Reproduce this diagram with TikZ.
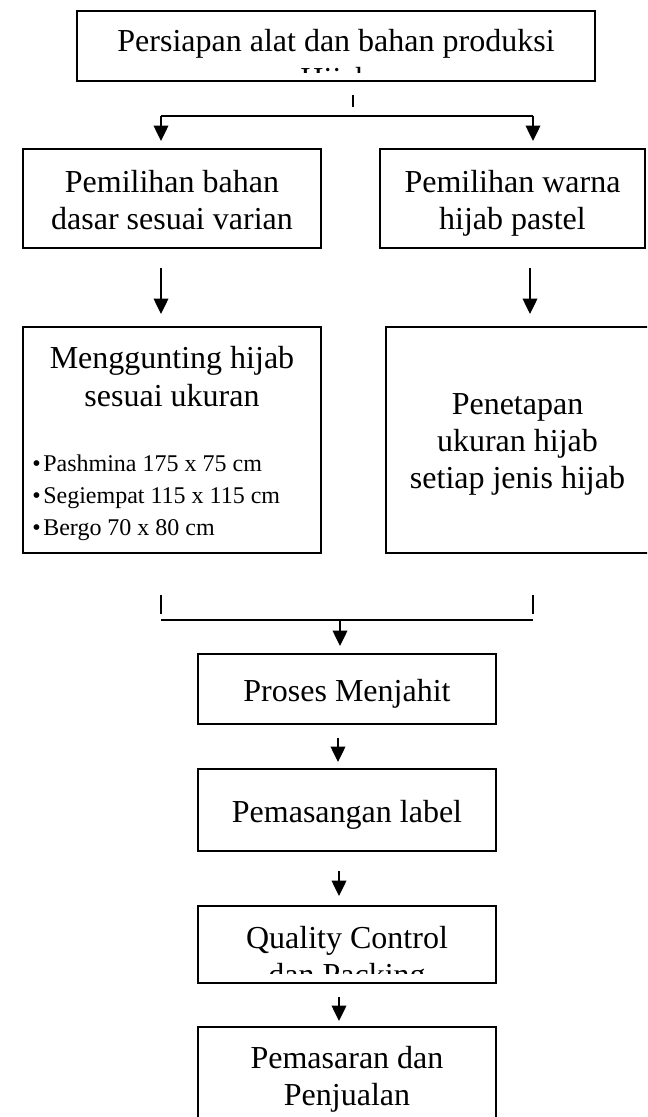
\documentclass[tikz,border=0pt]{standalone}
\usepackage{fontspec}
\setmainfont{Liberation Serif}
\usetikzlibrary{arrows.meta}
\begin{document}
\begin{tikzpicture}[x=0.75pt,y=-0.75pt,
  box/.style={draw, line width=1.5pt, inner sep=0pt},
  big/.style={font=\fontsize{24}{28.1}\selectfont, align=center, inner sep=0pt},
  small/.style={font=\fontsize{18}{24}\selectfont, align=left, inner sep=0pt},
  conn/.style={line width=1pt},
  arr/.style={line width=1pt, -{Triangle[width=11pt,length=11.5pt]}}]
\useasboundingbox (0,0) rectangle (647,1117);
\clip (0,0) rectangle (647,1117);

% top box
\node[box, minimum width=518*0.75pt, minimum height=70*0.75pt] (top) at (336,46) {};
\begin{scope}
  \clip (77,11) rectangle (595,72);
  \node[big] (toptxt) at (336,63) {\strut Persiapan alat dan bahan produksi\\\strut Hijab};
\end{scope}

% second row
\node[box, minimum width=298*0.75pt, minimum height=99*0.75pt] (p1) at (172,198.5) {};
\node[big] (p1t) at ([yshift=-3.75pt]p1.center) {\strut Pemilihan bahan\\\strut dasar sesuai varian};
\node[box, minimum width=265*0.75pt, minimum height=99*0.75pt] (p2) at (512.5,198.5) {};
\node[big] (p2t) at ([yshift=-3.75pt]p2.center) {\strut Pemilihan warna\\\strut hijab pastel};

% third row
\node[box, minimum width=298*0.75pt, minimum height=226*0.75pt] (m) at (172,440) {};
\node[big] (mhead) at (172,380) {\strut Menggunting hijab\\\strut sesuai ukuran};
\node[small, anchor=west] (mlist) at (32,497)
  {\strut\makebox[8.25pt][l]{•}Pashmina 175 x 75 cm\\
   \strut\makebox[8.25pt][l]{•}Segiempat 115 x 115 cm\\
   \strut\makebox[8.25pt][l]{•}Bergo 70 x 80 cm};
\node[box, minimum width=263*0.75pt, minimum height=226*0.75pt] (pe) at (517.5,440) {};
\node[big] (pet) at ([yshift=-3pt]pe.center) {\strut Penetapan\\\strut ukuran hijab\\\strut setiap jenis hijab};

% central column
\node[box, minimum width=298*0.75pt, minimum height=70*0.75pt] (pr) at (347,689) {};
\node[big] (prt) at ([yshift=-4.1pt]pr.center) {\strut Proses Menjahit};
\node[box, minimum width=298*0.75pt, minimum height=82*0.75pt] (pl) at (347,810) {};
\node[big] (plt) at ([yshift=-4.1pt]pl.center) {\strut Pemasangan label};
\node[box, minimum width=298*0.75pt, minimum height=77*0.75pt] (qc) at (347,944.5) {};
\begin{scope}
  \clip (198,906) rectangle (496,973);
  \node[big] (qctxt) at (347,959.5) {\strut Quality Control\\\strut dan Packing};
\end{scope}
\node[box, minimum width=298*0.75pt, minimum height=99*0.75pt] (pm) at (347,1076.5) {};
\node[big] (pmt) at ([yshift=-2.25pt]pm.center) {\strut Pemasaran dan\\\strut Penjualan};

% connectors
\coordinate (t1) at (353,95);
\coordinate (t2) at (353,107);
\coordinate (sl) at (161,116);
\coordinate (sr) at (533,116);
\coordinate (al) at (161,141);
\coordinate (ar) at (533,141);
\draw[conn] (t1) -- (t2);
\draw[conn] (sl) -- (sr);
\draw[arr] (sl) -- (al);
\draw[arr] (sr) -- (ar);

\coordinate (cx1) at (161,0);
\coordinate (cx2) at (530,0);
\draw[arr, shorten <=14.25pt, shorten >=9pt] (p1.south -| cx1) -- (m.north -| cx1);
\draw[arr, shorten <=14.25pt, shorten >=9pt] (p2.south -| cx2) -- (pe.north -| cx2);

\coordinate (k1a) at (161,595);
\coordinate (k1b) at (161,614);
\coordinate (k2a) at (533,595);
\coordinate (k2b) at (533,614);
\draw[conn] (k1a) -- (k1b);
\draw[conn] (k2a) -- (k2b);
\coordinate (jl) at (161,620);
\coordinate (jr) at (533,620);
\coordinate (jm) at (340,620);
\draw[line width=0.9pt] (jl) -- (jr);
\draw[arr, shorten >=5.25pt] (jm) -- (pr.north -| jm);

\coordinate (cx3) at (338,0);
\coordinate (cx4) at (339,0);
\draw[arr, shorten <=9.75pt, shorten >=4.5pt] (pr.south -| cx3) -- (pl.north -| cx3);
\draw[arr, shorten <=14.25pt, shorten >=6.75pt] (pl.south -| cx4) -- (qc.north -| cx4);
\draw[arr, shorten <=9.75pt, shorten >=3.75pt] (qc.south -| cx4) -- (pm.north -| cx4);
\end{tikzpicture}
\end{document}
